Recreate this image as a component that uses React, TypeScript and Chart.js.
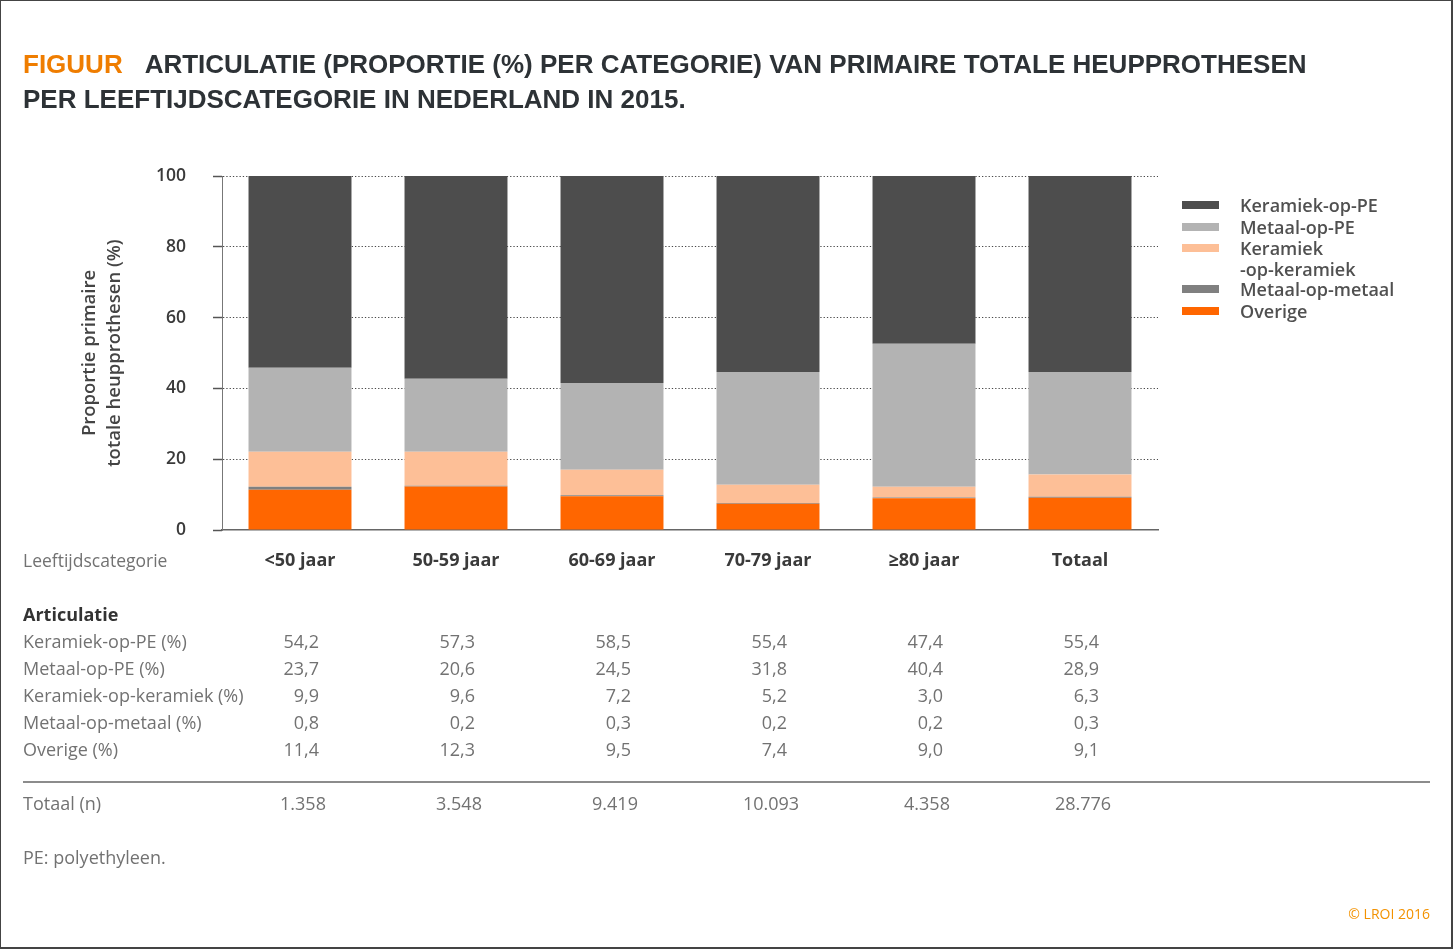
import React, { useEffect, useRef, useState } from "react";
import { Chart, registerables } from "chart.js";

Chart.register(...registerables);

// ---------- data ----------
const categories = ["<50 jaar", "50-59 jaar", "60-69 jaar", "70-79 jaar", "≥80 jaar", "Totaal"];
const keramiekOpPE = [54.2, 57.3, 58.5, 55.4, 47.4, 55.4];
const metaalOpPE = [23.7, 20.6, 24.5, 31.8, 40.4, 28.9];
const keramiekOpKeramiek = [9.9, 9.6, 7.2, 5.2, 3.0, 6.3];
const metaalOpMetaal = [0.8, 0.2, 0.3, 0.2, 0.2, 0.3];
const overige = [11.4, 12.3, 9.5, 7.4, 9.0, 9.1];
const totaalN = [1358, 3548, 9419, 10093, 4358, 28776];
const yTickValues = [0, 20, 40, 60, 80, 100];

const seriesLabels = ["Keramiek-op-PE", "Metaal-op-PE", "Keramiek-op-keramiek", "Metaal-op-metaal", "Overige"];
const legendLabels = [["Keramiek-op-PE"], ["Metaal-op-PE"], ["Keramiek", "-op-keramiek"], ["Metaal-op-metaal"], ["Overige"]];
const seriesValues = [keramiekOpPE, metaalOpPE, keramiekOpKeramiek, metaalOpMetaal, overige];
const seriesColors = ["#4d4d4d", "#b3b3b3", "#fdbf97", "#808080", "#ff6600"];
const tableRowLabels = ["Keramiek-op-PE (%)", "Metaal-op-PE (%)", "Keramiek-op-keramiek (%)", "Metaal-op-metaal (%)", "Overige (%)"];

const FONT = "'Open Sans', sans-serif";
const W = 1453;
const H = 949;

const fmtPct = (v: number) => v.toFixed(1).replace(".", ",");
const fmtN = (v: number) => String(v).replace(/\B(?=(\d{3})+(?!\d))/g, ".");

export default function App() {
  const canvasRef = useRef<HTMLCanvasElement | null>(null);
  const [cols, setCols] = useState<number[] | null>(null);

  useEffect(() => {
    const canvas = canvasRef.current;
    if (!canvas) return;
    // stacking bottom -> top: Overige, Metaal-op-metaal, Keramiek-op-keramiek, Metaal-op-PE, Keramiek-op-PE
    const order = [4, 3, 2, 1, 0];
    const chart = new Chart(canvas, {
      type: "bar",
      data: {
        labels: categories,
        datasets: order.map((i) => ({
          label: seriesLabels[i],
          data: seriesValues[i],
          backgroundColor: seriesColors[i],
          borderWidth: 0,
          categoryPercentage: 1,
          barPercentage: 0.66,
        })),
      },
      options: {
        responsive: false,
        animation: false,
        events: [],
        layout: { padding: { left: 0, top: 176, right: W - 1158, bottom: H - 530 - 60 } },
        plugins: { legend: { display: false }, tooltip: { enabled: false }, title: { display: false } },
        scales: {
          x: {
            stacked: true,
            grid: { display: true, drawOnChartArea: false, drawTicks: false },
            border: { display: true, color: "#666", width: 1.5 },
            ticks: { color: "#3a3a3a", padding: 20, font: { family: FONT, size: 18, weight: "bold" } },
            afterFit: (s: any) => {
              s.height = 60;
            },
          },
          y: {
            stacked: true,
            min: 0,
            max: 100,
            afterBuildTicks: (s: any) => {
              s.ticks = yTickValues.map((v) => ({ value: v }));
            },
            ticks: { padding: 27, color: "#3a3a3a", font: { family: FONT, size: 17.5, weight: "600" } },
            grid: {
              color: (ctx: any) => (ctx.tick && ctx.tick.value === 0 ? "rgba(0,0,0,0)" : "#4a4a4a"),
              lineWidth: 1,
              tickLength: 9,
              tickColor: "#555",
              tickWidth: 1.5,
            },
            border: { display: true, color: "#777", width: 1, dash: [1.3, 2] },
            title: {
              display: true,
              text: ["Proportie primaire", "totale heupprothesen (%)"],
              color: "#444",
              font: { family: FONT, size: 18.5, weight: "600", lineHeight: 25 / 18.5 },
              padding: { top: 77, bottom: 0 },
            },
            afterFit: (s: any) => {
              s.width = 222;
            },
          },
        },
      },
    } as any);
    const xs = chart.scales.x;
    setCols(categories.map((_, i) => xs.getPixelForValue(i)));
    return () => chart.destroy();
  }, []);

  const textAt = (y: number, style: React.CSSProperties, content: React.ReactNode, key?: string) => (
    <div
      key={key}
      style={{ position: "absolute", top: y - 11, height: 22, lineHeight: "22px", whiteSpace: "nowrap", fontFamily: FONT, ...style }}
    >
      {content}
    </div>
  );

  const gray = "#727272";
  const rowYs = [641, 668, 695, 722, 749];
  const legendCenters = [205, 226.5, 248, 289, 310.5];

  return (
    <div style={{ position: "absolute", left: 0, top: 0, width: W, height: H, background: "#fff", overflow: "hidden" }}>
      <canvas ref={canvasRef} width={W} height={H} style={{ position: "absolute", left: 0, top: 0, width: W, height: H }} />

      {/* title */}
      <div
        style={{
          position: "absolute",
          left: 23,
          top: 47,
          fontFamily: "'Liberation Sans', Arial, sans-serif",
          fontWeight: 700,
          fontSize: 26,
          lineHeight: "35px",
          color: "#2d3236",
          whiteSpace: "nowrap",
        }}
      >
        <span style={{ color: "#ef7d00", marginRight: 22 }}>FIGUUR</span>
        ARTICULATIE (PROPORTIE (%) PER CATEGORIE) VAN PRIMAIRE TOTALE HEUPPROTHESEN
        <br />
        PER LEEFTIJDSCATEGORIE IN NEDERLAND IN 2015.
      </div>

      {/* legend */}
      {seriesLabels.map((lab, i) => (
        <React.Fragment key={lab}>
          <div
            style={{
              position: "absolute",
              left: 1182,
              top: legendCenters[i] - 4,
              width: 37,
              height: 8,
              background: seriesColors[i],
            }}
          />
          {legendLabels[i].map((line, j) =>
            textAt(
              legendCenters[i] + j * 21,
              { left: 1240, fontSize: 18, fontWeight: 600, color: "#505050" },
              line,
              lab + j
            )
          )}
        </React.Fragment>
      ))}

      {/* table */}
      {textAt(560, { left: 23, fontSize: 17.5, color: gray }, "Leeftijdscategorie")}
      {textAt(614, { left: 23, fontSize: 18, fontWeight: 700, color: "#333" }, "Articulatie")}
      {tableRowLabels.map((lab, r) => textAt(rowYs[r], { left: 23, fontSize: 18, color: gray }, lab, "rl" + r))}
      {cols &&
        seriesValues.map((vals, r) =>
          vals.map((v, c) =>
            textAt(
              rowYs[r],
              { left: cols[c] + 19 - 80, width: 80, textAlign: "right", fontSize: 18, color: gray },
              fmtPct(v),
              "v" + r + "-" + c
            )
          )
        )}
      <div style={{ position: "absolute", left: 23, top: 781, width: 1407, height: 1.5, background: "#8c8c8c" }} />
      {textAt(803, { left: 23, fontSize: 18, color: gray }, "Totaal (n)")}
      {cols &&
        totaalN.map((n, c) =>
          textAt(803, { left: cols[c] + 3 - 60, width: 120, textAlign: "center", fontSize: 18, color: gray }, fmtN(n), "n" + c)
        )}
      {textAt(857, { left: 23, fontSize: 18, color: gray }, "PE: polyethyleen.")}
      {textAt(914, { right: W - 1430, fontSize: 14, color: "#f39200" }, "© LROI 2016")}

      {/* frame */}
      <div
        style={{
          position: "absolute",
          left: 0,
          top: 0,
          width: W,
          height: H,
          boxSizing: "border-box",
          borderStyle: "solid",
          borderColor: "#444",
          borderWidth: "1px 2px 2px 1px",
          pointerEvents: "none",
        }}
      />
    </div>
  );
}
